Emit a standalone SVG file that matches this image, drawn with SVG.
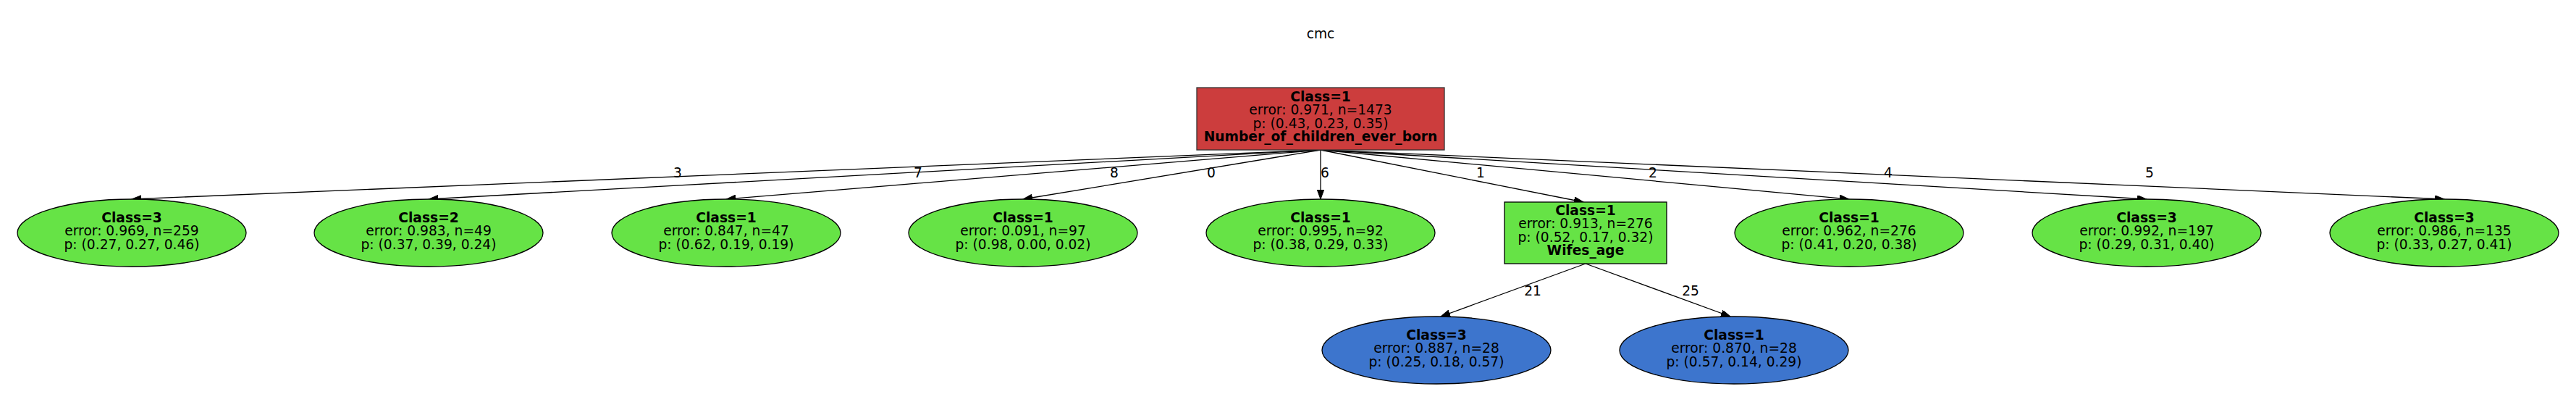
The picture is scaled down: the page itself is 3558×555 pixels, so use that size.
<svg xmlns="http://www.w3.org/2000/svg" width="3558" height="555" viewBox="0 0 3558 555">
<style>
text{font-family:"DejaVu Sans","Liberation Sans",sans-serif;font-size:18.67px;fill:#000;text-anchor:middle}
.b{font-weight:bold}
.edge{stroke:#000;stroke-width:1.3;fill:none}
.g{fill:#66e346;stroke:#000;stroke-width:1.3}
.bl{fill:#3d75cd;stroke:#000;stroke-width:1.3}
.r{fill:#cc3d3d;stroke:#333;stroke-width:1.3}
</style>
<defs>
<marker id="arr" markerUnits="userSpaceOnUse" markerWidth="14" markerHeight="10" refX="13" refY="4.7" orient="auto">
<path d="M0,0 L13,4.7 L0,9.4 z" fill="#000" stroke="#000" stroke-width="1"/>
</marker>
</defs>
<rect width="3558" height="555" fill="#fff"/>
<text x="1824" y="53">cmc</text>
<g id="edges">
<line class="edge" x1="1824" y1="207" x2="182" y2="275" marker-end="url(#arr)"/>
<line class="edge" x1="1824" y1="207" x2="592" y2="275" marker-end="url(#arr)"/>
<line class="edge" x1="1824" y1="207" x2="1003" y2="275" marker-end="url(#arr)"/>
<line class="edge" x1="1824" y1="207" x2="1413" y2="275" marker-end="url(#arr)"/>
<line class="edge" x1="1824" y1="207" x2="1824" y2="275" marker-end="url(#arr)"/>
<line class="edge" x1="1824" y1="207" x2="2187" y2="279" marker-end="url(#arr)"/>
<line class="edge" x1="1824" y1="207" x2="2554" y2="275" marker-end="url(#arr)"/>
<line class="edge" x1="1824" y1="207" x2="2965" y2="275" marker-end="url(#arr)"/>
<line class="edge" x1="1824" y1="207" x2="3376" y2="275" marker-end="url(#arr)"/>
<line class="edge" x1="2190" y1="364" x2="1990" y2="437" marker-end="url(#arr)"/>
<line class="edge" x1="2190" y1="364" x2="2390" y2="437" marker-end="url(#arr)"/>
<text x="936" y="245">3</text>
<text x="1268" y="245">7</text>
<text x="1539" y="245">8</text>
<text x="1673" y="245">0</text>
<text x="1830" y="245">6</text>
<text x="2045" y="245">1</text>
<text x="2283" y="245">2</text>
<text x="2608" y="245">4</text>
<text x="2969" y="245">5</text>
<text x="2117" y="408">21</text>
<text x="2335" y="408">25</text>
</g>
<g id="root">
<rect class="r" x="1653" y="121" width="342" height="86"/>
<text class="b" x="1824" y="140">Class=1</text>
<text x="1824" y="158.3">error: 0.971, n=1473</text>
<text x="1824" y="176.6">p: (0.43, 0.23, 0.35)</text>
<text class="b" x="1824" y="195">Number_of_children_ever_born</text>
</g>
<g id="n1">
<ellipse class="g" cx="182" cy="321.5" rx="158" ry="46.5"/>
<text class="b" x="182" y="306.5">Class=3</text>
<text x="182" y="325">error: 0.969, n=259</text>
<text x="182" y="343.5">p: (0.27, 0.27, 0.46)</text>
</g>
<g id="n2">
<ellipse class="g" cx="592" cy="321.5" rx="158" ry="46.5"/>
<text class="b" x="592" y="306.5">Class=2</text>
<text x="592" y="325">error: 0.983, n=49</text>
<text x="592" y="343.5">p: (0.37, 0.39, 0.24)</text>
</g>
<g id="n3">
<ellipse class="g" cx="1003" cy="321.5" rx="158" ry="46.5"/>
<text class="b" x="1003" y="306.5">Class=1</text>
<text x="1003" y="325">error: 0.847, n=47</text>
<text x="1003" y="343.5">p: (0.62, 0.19, 0.19)</text>
</g>
<g id="n4">
<ellipse class="g" cx="1413" cy="321.5" rx="158" ry="46.5"/>
<text class="b" x="1413" y="306.5">Class=1</text>
<text x="1413" y="325">error: 0.091, n=97</text>
<text x="1413" y="343.5">p: (0.98, 0.00, 0.02)</text>
</g>
<g id="n5">
<ellipse class="g" cx="1824" cy="321.5" rx="158" ry="46.5"/>
<text class="b" x="1824" y="306.5">Class=1</text>
<text x="1824" y="325">error: 0.995, n=92</text>
<text x="1824" y="343.5">p: (0.38, 0.29, 0.33)</text>
</g>
<g id="n6">
<rect class="g" x="2078" y="279" width="224" height="85"/>
<text class="b" x="2190" y="296.5">Class=1</text>
<text x="2190" y="315">error: 0.913, n=276</text>
<text x="2190" y="333.5">p: (0.52, 0.17, 0.32)</text>
<text class="b" x="2190" y="352">Wifes_age</text>
</g>
<g id="n7">
<ellipse class="g" cx="2554" cy="321.5" rx="158" ry="46.5"/>
<text class="b" x="2554" y="306.5">Class=1</text>
<text x="2554" y="325">error: 0.962, n=276</text>
<text x="2554" y="343.5">p: (0.41, 0.20, 0.38)</text>
</g>
<g id="n8">
<ellipse class="g" cx="2965" cy="321.5" rx="158" ry="46.5"/>
<text class="b" x="2965" y="306.5">Class=3</text>
<text x="2965" y="325">error: 0.992, n=197</text>
<text x="2965" y="343.5">p: (0.29, 0.31, 0.40)</text>
</g>
<g id="n9">
<ellipse class="g" cx="3376" cy="321.5" rx="158" ry="46.5"/>
<text class="b" x="3376" y="306.5">Class=3</text>
<text x="3376" y="325">error: 0.986, n=135</text>
<text x="3376" y="343.5">p: (0.33, 0.27, 0.41)</text>
</g>
<g id="n10">
<ellipse class="bl" cx="1984" cy="483.5" rx="158" ry="46.5"/>
<text class="b" x="1984" y="468.5">Class=3</text>
<text x="1984" y="487">error: 0.887, n=28</text>
<text x="1984" y="505.5">p: (0.25, 0.18, 0.57)</text>
</g>
<g id="n11">
<ellipse class="bl" cx="2395" cy="483.5" rx="158" ry="46.5"/>
<text class="b" x="2395" y="468.5">Class=1</text>
<text x="2395" y="487">error: 0.870, n=28</text>
<text x="2395" y="505.5">p: (0.57, 0.14, 0.29)</text>
</g>
</svg>
